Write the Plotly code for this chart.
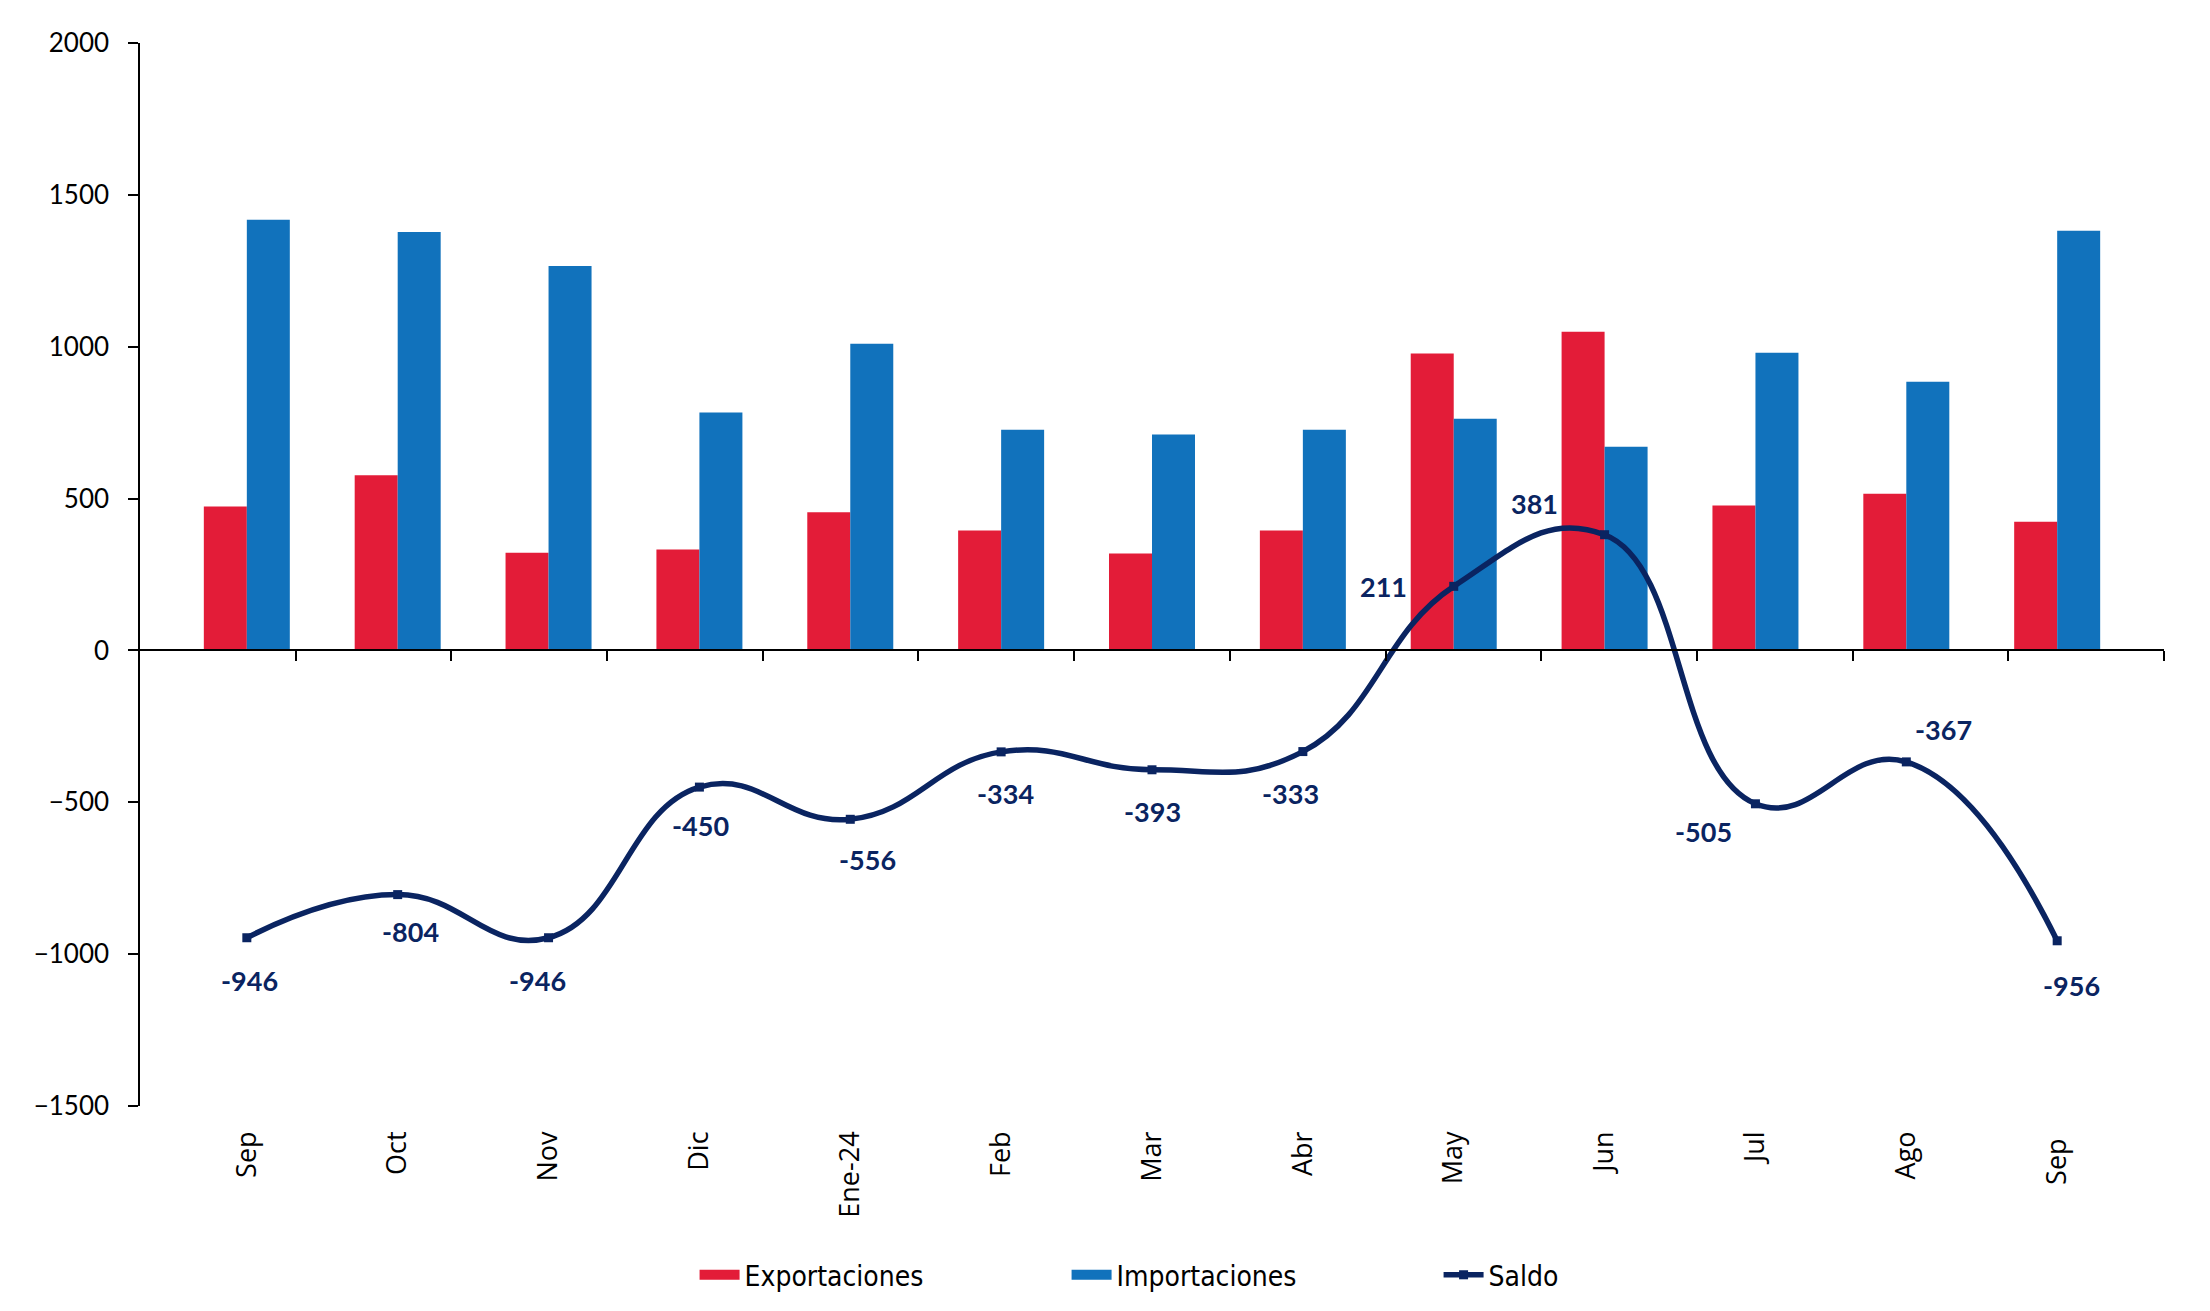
import plotly.graph_objects as go

categories = ["Sep", "Oct", "Nov", "Dic", "Ene-24", "Feb", "Mar", "Abr", "May", "Jun", "Jul", "Ago", "Sep "]
exportaciones = [474, 577, 322, 332, 455, 395, 319, 395, 978, 1049, 477, 516, 424]
importaciones = [1418, 1378, 1266, 783, 1010, 727, 711, 727, 763, 671, 980, 885, 1382]
saldo = [-946, -804, -946, -450, -556, -334, -393, -333, 211, 381, -505, -367, -956]
y_ticks = [-1500, -1000, -500, 0, 500, 1000, 1500, 2000]

# label offsets (pixels) for the Saldo data labels
label_dx = [3, 13, -11, 1, 17, 4, 0, -12, -70, -70, -52, 37, 14]
label_dy = [-43, -37, -43, -38, -40, -42, -42, -42, 0, 31, -28, 32, -45]

RED = "#E31C38"
BLUE = "#1172BC"
NAVY = "#0A2461"

fig = go.Figure()
fig.add_trace(go.Bar(x=categories, y=exportaciones, name="Exportaciones", showlegend=False,
                     marker=dict(color=RED, line=dict(width=0))))
fig.add_trace(go.Bar(x=categories, y=importaciones, name="Importaciones", showlegend=False,
                     marker=dict(color=BLUE, line=dict(width=0))))
# legend entries with wide rectangular swatches
fig.add_trace(go.Scatter(x=[None], y=[None], name="Exportaciones", mode="lines",
                         line=dict(color=RED, width=18), hoverinfo="skip"))
fig.add_trace(go.Scatter(x=[None], y=[None], name="Importaciones", mode="lines",
                         line=dict(color=BLUE, width=18), hoverinfo="skip"))
fig.add_trace(go.Scatter(x=categories, y=saldo, name="Saldo", mode="lines+markers",
                         line=dict(color=NAVY, width=5.5, shape="spline", smoothing=1.3),
                         marker=dict(symbol="square", size=9, color=NAVY)))
# helper trace for the category-boundary axis along zero
fig.add_trace(go.Scatter(x=[0], y=[0], xaxis="x2", mode="markers",
                         marker=dict(size=0.1, opacity=0), showlegend=False, hoverinfo="skip"))

for i, (c, v) in enumerate(zip(categories, saldo)):
    fig.add_annotation(x=c, y=v, text=f"<b>{v}</b>", showarrow=False,
                       xshift=label_dx[i], yshift=label_dy[i],
                       font=dict(family="Lato, Open Sans, sans-serif", size=27, color=NAVY))

fig.update_layout(
    width=2202, height=1303,
    margin=dict(l=132, r=46, t=35, b=204),
    paper_bgcolor="white", plot_bgcolor="white",
    barmode="group", bargap=0.43, bargroupgap=0,
    showlegend=True,
    legend=dict(orientation="h", x=0.274, xanchor="left", y=-0.158, yanchor="middle",
                font=dict(family="Liberation Sans Narrow, DejaVu Sans Condensed, sans-serif",
                          size=28, color="black"),
                entrywidth=317, entrywidthmode="pixels", itemwidth=40,
                bgcolor="rgba(0,0,0,0)"),
    xaxis=dict(type="category", showline=False, showgrid=False, zeroline=False,
               ticks="", tickangle=-90, ticklabelstandoff=19,
               tickfont=dict(family="Open Sans, Noto Sans, sans-serif", size=27, color="black")),
    xaxis2=dict(overlaying="x", anchor="free", position=1500 / 3500, range=[-0.5, 12.5],
                tickmode="array", tickvals=[k + 0.5 for k in range(13)],
                ticks="outside", ticklen=10, tickwidth=1.5, tickcolor="black",
                showline=True, linecolor="black", linewidth=1.5,
                showticklabels=False, showgrid=False, zeroline=False, side="bottom"),
    yaxis=dict(range=[-1500, 2000], tickmode="array", tickvals=y_ticks,
               showline=True, linecolor="black", linewidth=1.5,
               ticks="outside", ticklen=10, tickwidth=1.5, tickcolor="black",
               showgrid=False, zeroline=False, ticklabelstandoff=14,
               tickfont=dict(family="Lato, Open Sans, sans-serif", size=26, color="black")),
)

fig.write_html("out.html")
